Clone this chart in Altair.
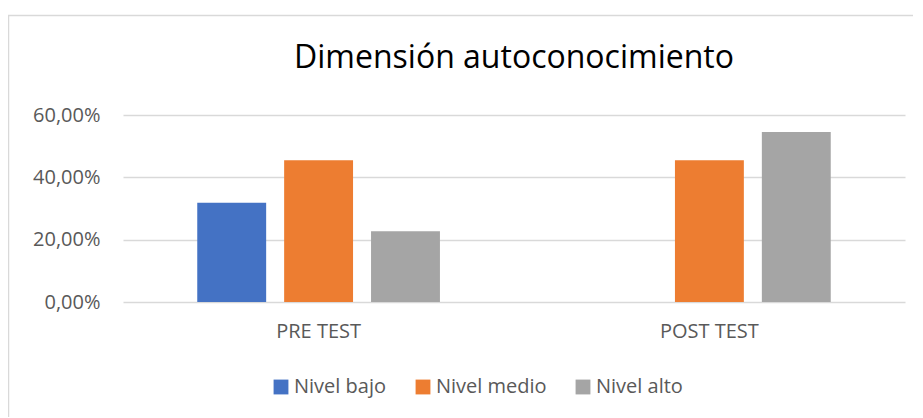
import altair as alt
import pandas as pd

categories = ["PRE TEST", "PRE TEST", "PRE TEST", "POST TEST", "POST TEST", "POST TEST"]
levels = ["Nivel bajo", "Nivel medio", "Nivel alto", "Nivel bajo", "Nivel medio", "Nivel alto"]
values = [0.3182, 0.4545, 0.2273, 0.0, 0.4545, 0.5455]
level_order = ["Nivel bajo", "Nivel medio", "Nivel alto"]
cat_order = ["PRE TEST", "POST TEST"]
colors = ["#4472C4", "#ED7D31", "#A5A5A5"]
y_ticks = [0, 0.2, 0.4, 0.6]

df = pd.DataFrame({"cat": categories, "level": levels, "value": values})

FONT = "Open Sans"
W, H = 782, 187

bars = alt.Chart(df).mark_bar().encode(
    x=alt.X("cat:N", sort=cat_order, title=None,
            scale=alt.Scale(paddingInner=0.379, paddingOuter=0.19),
            axis=alt.Axis(labelAngle=0, labelFontSize=20, labelColor="#595959",
                          labelFont=FONT, labelPadding=19, ticks=False, domain=False)),
    xOffset=alt.XOffset("level:N", sort=level_order,
                        scale=alt.Scale(paddingInner=0.207, paddingOuter=0)),
    y=alt.Y("value:Q", title=None,
            scale=alt.Scale(domain=[0, 0.6], nice=False),
            axis=alt.Axis(values=y_ticks, labelFontSize=20, labelColor="#595959",
                          labelFont=FONT, labelPadding=23, ticks=False, domain=False,
                          gridColor="#D9D9D9", gridWidth=1.5,
                          labelExpr="replace(format(datum.value*100, '.2f'), '.', ',') + '%'")),
    color=alt.Color("level:N", sort=level_order,
                    scale=alt.Scale(domain=level_order, range=colors),
                    legend=alt.Legend(title=None, orient="none", direction="horizontal",
                                      legendX=148, legendY=262,
                                      symbolType="square", symbolSize=220,
                                      symbolStrokeWidth=0,
                                      labelFontSize=20, labelColor="#595959",
                                      labelFont=FONT, labelOffset=3, columnPadding=26)),
)

frame = alt.Chart(pd.DataFrame({"a": [0]})).mark_rect(
    fill=None, stroke="#D9D9D9", strokeWidth=1.5, clip=False
).encode(
    x=alt.value(-114.5), x2=alt.value(W + 40),
    y=alt.value(-99.5), y2=alt.value(H + 150),
)

chart = alt.layer(frame, bars).properties(
    width=W, height=H,
    title=alt.TitleParams("Dimensión autoconocimiento", fontSize=32, font=FONT,
                          fontWeight="normal", color="#000000", anchor="middle",
                          frame="group", baseline="alphabetic", offset=-85),
    autosize=alt.AutoSizeParams(type="none"),
    padding={"left": 115, "top": 107, "right": 8, "bottom": 115},
).configure(background="white").configure_view(stroke=None)

chart.save("out.html", embed_options={"renderer": "svg", "actions": False})
